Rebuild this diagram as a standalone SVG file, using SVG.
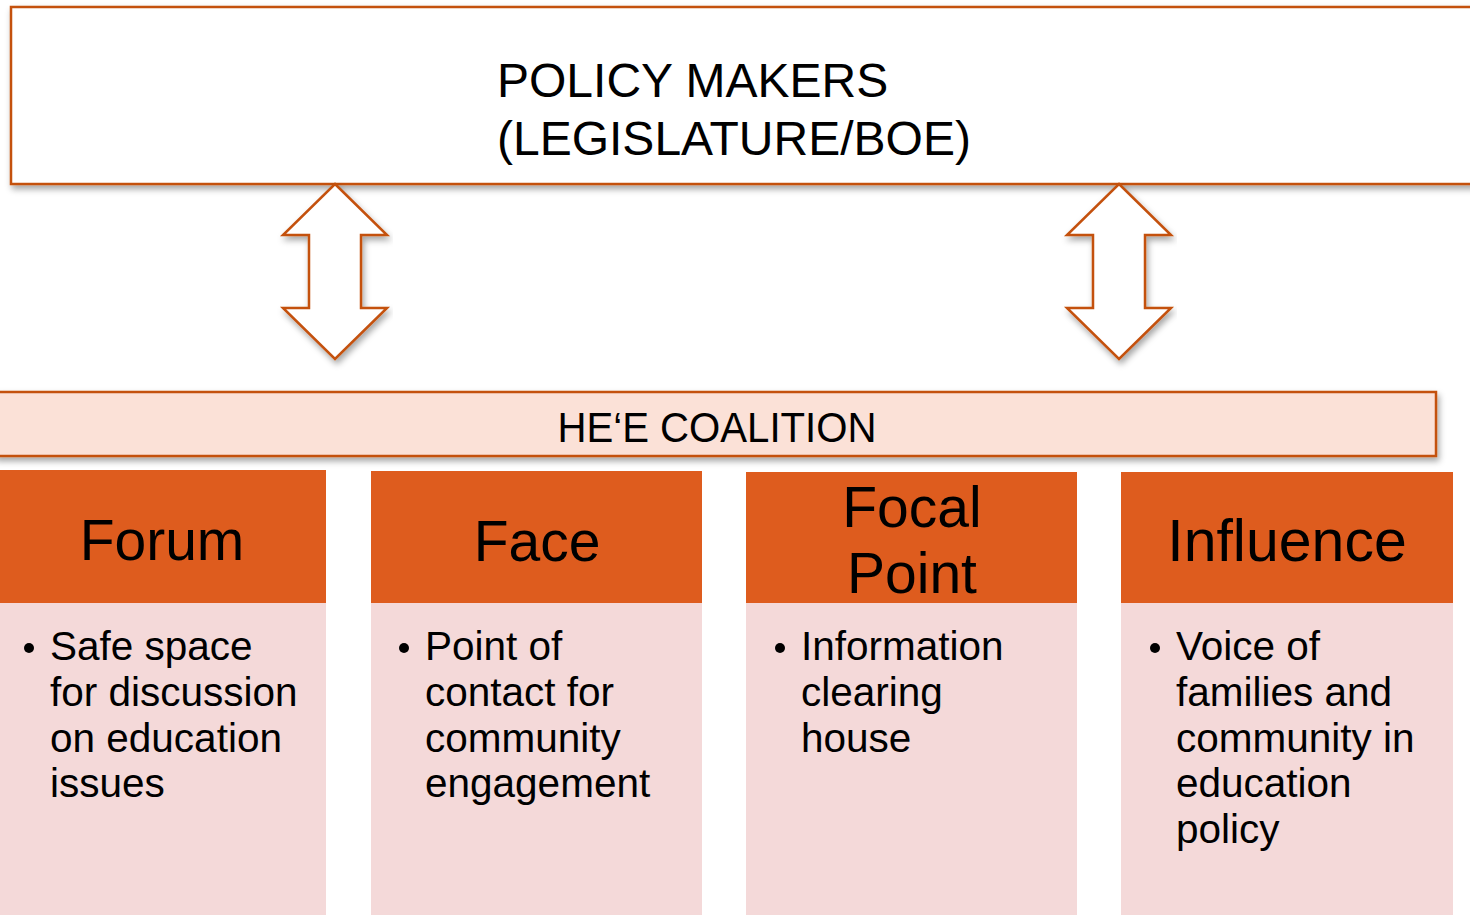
<svg xmlns="http://www.w3.org/2000/svg" width="1470" height="915" viewBox="0 0 1470 915">
<defs>
<filter id="sh" x="-5%" y="-20%" width="110%" height="150%">
<feDropShadow dx="2" dy="4" stdDeviation="3" flood-color="#000" flood-opacity="0.35"/>
</filter>
</defs>
<style>
.frame{fill:#fff;stroke:#C4510F;stroke-width:2.5}
.bar{fill:#FBE1D7;stroke:#C4510F;stroke-width:2.5}
.arrow{fill:#fff;stroke:#C4510F;stroke-width:2.5;stroke-linejoin:miter}
.head{fill:#DE5C1E}
.body{fill:#F4D9D9}
.t{font-family:"Liberation Sans",Arial,sans-serif;fill:#000}
.title{font-size:48px}
.coal{font-size:42px}
.h{font-size:57px;text-anchor:middle}
.b{font-size:40.5px}
</style>
<g id="policy-makers">
<rect class="frame" x="11" y="7" width="1470" height="177" filter="url(#sh)"/>
<text class="t title" x="497" y="97">POLICY MAKERS</text>
<text class="t title" x="497" y="155">(LEGISLATURE/BOE)</text>
</g>
<g id="connectors">
<polygon class="arrow" filter="url(#sh)" points="335,184 387,235 361,235 361,308 387,308 335,359 283,308 309,308 309,235 283,235"/>
<polygon class="arrow" filter="url(#sh)" points="1119,184 1171,235 1145,235 1145,308 1171,308 1119,359 1067,308 1093,308 1093,235 1067,235"/>
</g>
<g id="coalition">
<rect class="bar" x="-5" y="392" width="1441" height="64" filter="url(#sh)"/>
<text class="t coal" x="717" y="442" text-anchor="middle" textLength="319" lengthAdjust="spacingAndGlyphs">HE‘E COALITION</text>
</g>
<g id="forum">
<rect class="head" x="0" y="470" width="326" height="133"/>
<rect class="body" x="0" y="603" width="326" height="312"/>
<text class="t h" x="162" y="560">Forum</text>
<circle cx="29" cy="648" r="5"/>
<text class="t b" x="50"><tspan x="50" y="660">Safe space</tspan><tspan x="50" y="706">for discussion</tspan><tspan x="50" y="752">on education</tspan><tspan x="50" y="797">issues</tspan></text>
</g>
<g id="face">
<rect class="head" x="371" y="471" width="331" height="132"/>
<rect class="body" x="371" y="603" width="331" height="312"/>
<text class="t h" x="537" y="561">Face</text>
<circle cx="404" cy="648" r="5"/>
<text class="t b" x="425"><tspan x="425" y="660">Point of</tspan><tspan x="425" y="706">contact for</tspan><tspan x="425" y="752">community</tspan><tspan x="425" y="797">engagement</tspan></text>
</g>
<g id="focal-point">
<rect class="head" x="746" y="472" width="331" height="131"/>
<rect class="body" x="746" y="603" width="331" height="312"/>
<text class="t h" x="912" y="527">Focal</text>
<text class="t h" x="912" y="593">Point</text>
<circle cx="780" cy="648" r="5"/>
<text class="t b" x="801"><tspan x="801" y="660">Information</tspan><tspan x="801" y="706">clearing</tspan><tspan x="801" y="752">house</tspan></text>
</g>
<g id="influence">
<rect class="head" x="1121" y="472" width="332" height="131"/>
<rect class="body" x="1121" y="603" width="332" height="312"/>
<text class="t h" x="1287" y="561" style="font-size:59px">Influence</text>
<circle cx="1155" cy="648" r="5"/>
<text class="t b" x="1176"><tspan x="1176" y="660">Voice of</tspan><tspan x="1176" y="706">families and</tspan><tspan x="1176" y="752">community in</tspan><tspan x="1176" y="797">education</tspan><tspan x="1176" y="843">policy</tspan></text>
</g>
</svg>
